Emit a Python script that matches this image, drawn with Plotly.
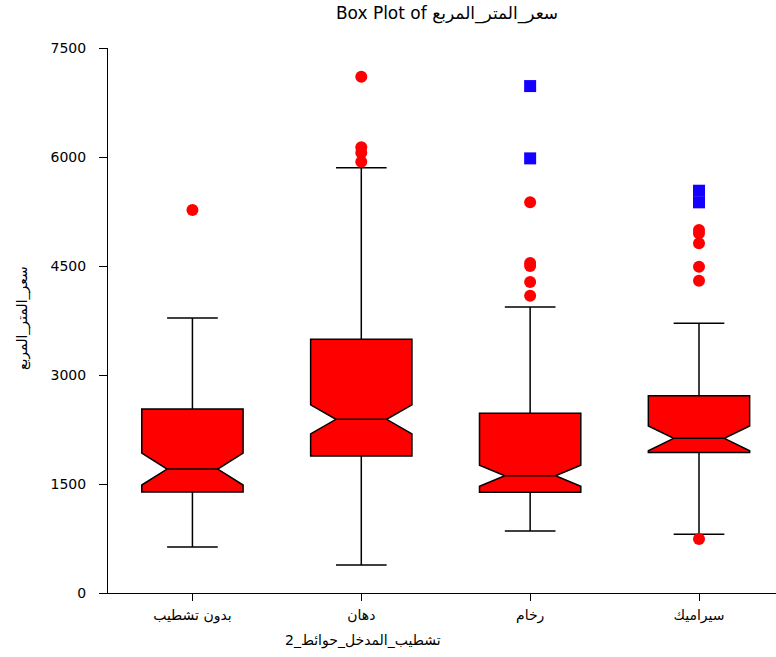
import plotly.graph_objects as go

# Group labels (wall finish of the entrance)
categories = ["بدون تشطيب", "دهان", "رخام", "سيراميك"]

# Precomputed box statistics for price per square metre
q1 = [1390, 1885, 1385, 1935]
median = [1706, 2390, 1614, 2128]
q3 = [2532, 3491, 2472, 2715]
lower_fence = [633, 385, 853, 808]
upper_fence = [3784, 5852, 3935, 3711]
notch_span = [220, 200, 145, 170]

# Outliers: near (circles) and far (squares)
near_outliers = {
    "بدون تشطيب": [5270],
    "دهان": [7105, 6133, 6059, 5935],
    "رخام": [5376, 4540, 4500, 4279, 4091],
    "سيراميك": [4995, 4950, 4812, 4490, 4297, 743],
}
far_outliers = {
    "رخام": [6976, 5981],
    "سيراميك": [5536, 5376],
}

y_ticks = [0, 1500, 3000, 4500, 6000, 7500]

FONT = "DejaVu Sans, Liberation Sans, Arial, sans-serif"

fig = go.Figure()

fig.add_trace(go.Box(
    x=categories,
    q1=q1,
    median=median,
    q3=q3,
    lowerfence=lower_fence,
    upperfence=upper_fence,
    notchspan=notch_span,
    notched=True,
    notchwidth=0.25,
    whiskerwidth=0.5,
    boxpoints=False,
    fillcolor="#ff0000",
    line=dict(color="black", width=1.5),
    hoverinfo="skip",
))

near_x, near_y = [], []
for cat in categories:
    for v in near_outliers.get(cat, []):
        near_x.append(cat)
        near_y.append(v)

far_x, far_y = [], []
for cat in categories:
    for v in far_outliers.get(cat, []):
        far_x.append(cat)
        far_y.append(v)

fig.add_trace(go.Scatter(
    x=near_x, y=near_y, mode="markers",
    marker=dict(symbol="circle", size=12, color="#ff0000", line=dict(width=0)),
    hoverinfo="skip",
))
fig.add_trace(go.Scatter(
    x=far_x, y=far_y, mode="markers",
    marker=dict(symbol="square", size=12, color="#1400ff", line=dict(width=0)),
    hoverinfo="skip",
))

W, H = 776, 657
ML, MR, MT, MB = 108, 0, 48, 64
plot_w = W - ML - MR

fig.update_layout(
    width=W, height=H,
    margin=dict(l=ML, r=MR, t=MT, b=MB, pad=0),
    paper_bgcolor="white",
    plot_bgcolor="white",
    showlegend=False,
    boxgap=0.4,
    boxgroupgap=0,
    font=dict(family=FONT, color="black", size=14),
    title=dict(
        text="Box Plot of سعر_المتر_المربع",
        x=(447 - ML) / plot_w, xref="paper", xanchor="center",
        y=1 - 13 / H, yref="container", yanchor="middle",
        font=dict(family=FONT, size=17, color="black"),
    ),
    xaxis=dict(
        type="category",
        categoryorder="array",
        categoryarray=categories,
        range=[-0.5, 3.456],
        showline=True, linecolor="black", linewidth=1,
        ticks="outside", ticklen=7, tickcolor="black", tickwidth=1,
        showgrid=False, zeroline=False,
        tickfont=dict(family=FONT, size=14, color="black"),
        ticklabelstandoff=2,
    ),
    yaxis=dict(
        range=[0, 7500],
        tickvals=y_ticks,
        ticktext=[str(v) for v in y_ticks],
        showline=True, linecolor="black", linewidth=1,
        ticks="outside", ticklen=8, tickcolor="black", tickwidth=1,
        showgrid=False, zeroline=False,
        tickfont=dict(family=FONT, size=14, color="black"),
        ticklabelstandoff=10,
    ),
    annotations=[
        dict(
            text="تشطيب_المدخل_حوائط_2",
            xref="paper", yref="paper",
            x=(363 - ML) / plot_w, y=-(640 - (H - MB)) / (H - MT - MB),
            xanchor="center", yanchor="middle", showarrow=False,
            font=dict(family=FONT, size=14, color="black"),
        ),
        dict(
            text="سعر_المتر_المربع",
            xref="paper", yref="paper",
            x=(22 - ML) / plot_w, y=(H - MB - 318) / (H - MT - MB),
            xanchor="center", yanchor="middle", textangle=-90, showarrow=False,
            font=dict(family=FONT, size=14, color="black"),
        ),
    ],
)

fig.write_html("out.html")
